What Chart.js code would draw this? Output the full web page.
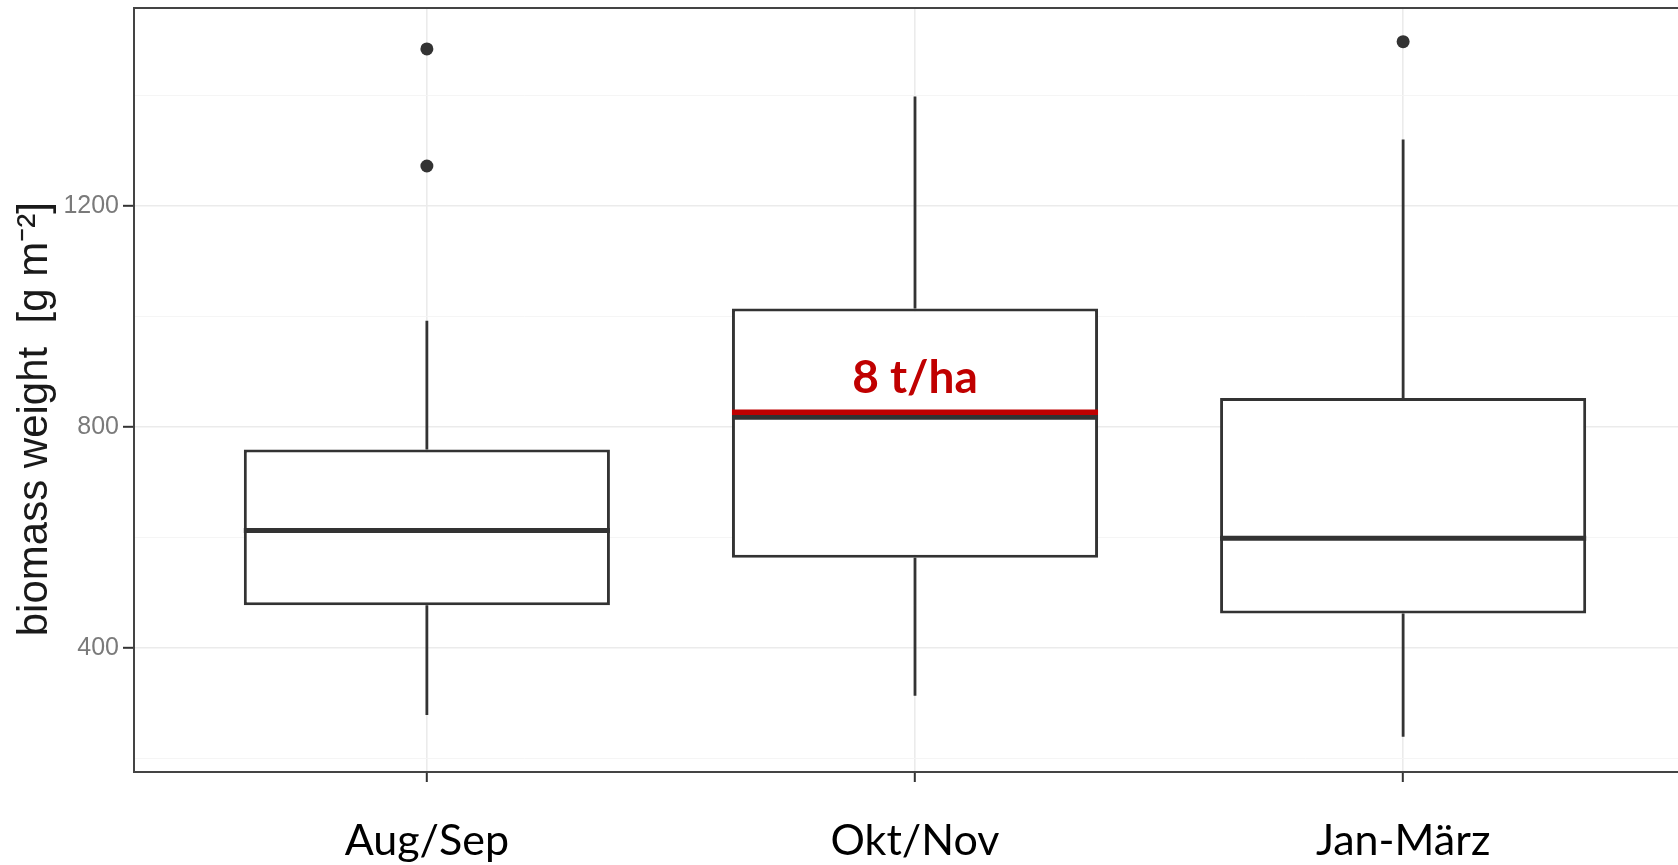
<!DOCTYPE html>
<html lang="de">
<head>
<meta charset="UTF-8">
<title>Biomass weight by harvest period</title>
<script src="https://cdn.jsdelivr.net/npm/chart.js"></script>
<style>
  html, body { margin: 0; padding: 0; background: #fff; overflow: hidden; }
  #wrap { width: 1720px; height: 865px; }
</style>
</head>
<body>
<div id="wrap"><canvas id="boxChart"></canvas></div>
<script>
// box statistics (g m-2)
const categories = ['Aug/Sep', 'Okt/Nov', 'Jan-März'];
const q1 = [477, 563, 462];
const median = [612, 817, 598];
const q3 = [759, 1014, 852];
const whiskerLow = [278, 313, 239];
const whiskerHigh = [992, 1398, 1320];
const outliers = [[1484, 1272], [], [1497]];

const yTicks = [200, 400, 600, 800, 1000, 1200, 1400];
const yMajor = [400, 800, 1200];

// red reference line in the Okt/Nov box
const markCategory = 1;
const markValue = 826;
const markLabel = '8 t/ha';

const BOX_W = 0.75;
const INK = '#333333';

const medianPts = [], whiskerPts = [], outlierPts = [];
categories.forEach((c, i) => {
  const x = i + 1;
  medianPts.push({x: x - BOX_W / 2, y: median[i]}, {x: x + BOX_W / 2, y: median[i]}, {x: x, y: null});
  whiskerPts.push({x: x, y: q3[i]}, {x: x, y: whiskerHigh[i]}, {x: x, y: null});
  whiskerPts.push({x: x, y: q1[i]}, {x: x, y: whiskerLow[i]}, {x: x, y: null});
  outliers[i].forEach(v => outlierPts.push({x: x, y: v}));
});
const markPts = [
  {x: markCategory + 1 - BOX_W / 2, y: markValue},
  {x: markCategory + 1 + BOX_W / 2, y: markValue}
];

const panelFrame = {
  id: 'panelFrame',
  afterDatasetsDraw(chart) {
    const {ctx, chartArea: a, scales} = chart;
    ctx.save();
    ctx.strokeStyle = '#444';
    ctx.lineWidth = 2;
    ctx.strokeRect(a.left, a.top, a.right - a.left, a.bottom - a.top);
    ctx.fillStyle = '#C00000';
    ctx.font = 'bold 46px Lato';
    ctx.textAlign = 'center';
    ctx.textBaseline = 'alphabetic';
    ctx.fillText(markLabel, scales.x.getPixelForValue(markCategory + 1), scales.y.getPixelForValue(markValue) - 19);
    ctx.restore();
  }
};

const isMajor = v => yMajor.includes(v);
const noEdgePad = s => { s.paddingTop = 0; s.paddingBottom = 0; s.paddingLeft = 0; s.paddingRight = 0; };

new Chart(document.getElementById('boxChart'), {
  type: 'bar',
  data: {
    datasets: [
      {
        type: 'line', data: markPts, order: 0,
        borderColor: '#C00000', borderWidth: 5.5, pointRadius: 0
      },
      {
        type: 'line', data: medianPts, order: 1, spanGaps: false,
        borderColor: INK, borderWidth: 5, pointRadius: 0
      },
      {
        type: 'line', data: whiskerPts, order: 2, spanGaps: false,
        borderColor: INK, borderWidth: 2.8, pointRadius: 0
      },
      {
        type: 'line', data: outlierPts, order: 3, showLine: false,
        pointRadius: 6.5, pointBackgroundColor: INK, pointBorderWidth: 0
      },
      {
        type: 'bar', order: 4,
        data: categories.map((c, i) => ({x: i + 1, y: [q1[i], q3[i]]})),
        backgroundColor: '#ffffff', borderColor: INK, borderWidth: 3,
        borderSkipped: false, barPercentage: BOX_W, categoryPercentage: 1
      }
    ]
  },
  options: {
    responsive: true,
    maintainAspectRatio: false,
    animation: false,
    layout: { autoPadding: false, padding: { left: 0, top: 8, right: 24, bottom: 0 } },
    plugins: { legend: { display: false }, tooltip: { enabled: false } },
    scales: {
      x: {
        type: 'linear', min: 0.4, max: 3.6, offset: false,
        afterBuildTicks: s => { s.ticks = categories.map((c, i) => ({value: i + 1})); },
        afterFit: s => { s.height = 93; noEdgePad(s); },
        ticks: {
          callback: v => categories[v - 1] ?? '',
          color: '#000', font: { family: 'Lato', size: 43 }, padding: 33,
          maxRotation: 0, autoSkip: false
        },
        grid: { offset: false, color: '#EBEBEB', lineWidth: 1.6, tickColor: INK, tickLength: 10, tickWidth: 2 },
        border: { display: false }
      },
      y: {
        min: 175, max: 1558,
        afterBuildTicks: s => { s.ticks = yTicks.map(v => ({value: v})); },
        afterFit: s => { s.width = 134; noEdgePad(s); },
        ticks: {
          callback: v => isMajor(v) ? String(v) : '',
          color: '#7a7a7a', font: { family: 'Liberation Sans', size: 25 }, padding: 4
        },
        grid: {
          color: c => isMajor(c.tick && c.tick.value) ? '#EBEBEB' : '#F4F4F4',
          lineWidth: c => isMajor(c.tick && c.tick.value) ? 1.6 : 0.9,
          tickColor: c => isMajor(c.tick && c.tick.value) ? INK : 'rgba(0,0,0,0)',
          tickLength: 11, tickWidth: 2
        },
        border: { display: false },
        title: {
          display: true, text: 'biomass weight  [g m⁻²]     ', color: '#1a1a1a',
          font: { family: 'Liberation Sans', size: 42 }, padding: { top: 10, bottom: 2 }
        }
      }
    }
  },
  plugins: [panelFrame]
});
</script>
</body>
</html>
